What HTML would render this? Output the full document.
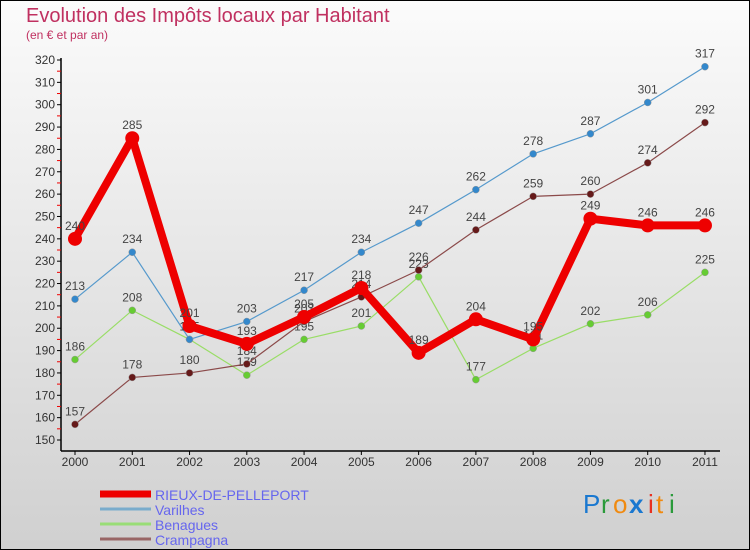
<!DOCTYPE html>
<html><head><meta charset="utf-8"><style>
html,body{margin:0;padding:0}
body{width:750px;height:550px;overflow:hidden;font-family:"Liberation Sans",sans-serif}
#wrap{position:relative;width:748px;height:548px;border:1px solid #000;background:linear-gradient(#fbfbfb,#d0d0d0)}
</style></head><body>
<div id="wrap">
<svg id="chart" width="748" height="548" viewBox="1 1 748 548" style="position:absolute;left:0;top:0">
<text x="26" y="22" font-size="20" fill="#c03060">Evolution des Impôts locaux par Habitant</text>
<text x="26" y="39" font-size="12" fill="#c03060">(en € et par an)</text>
<g id="axes"></g><g id="series"></g><g id="legend"></g>
<g font-size="26" font-family="Liberation Sans, sans-serif">
<text x="583" y="513" fill="#1a78d0">P</text><text x="601" y="513" fill="#2a9a3a">r</text><text x="613" y="513" fill="#f08a10">o</text><text x="629" y="513" fill="#1a78d0" font-weight="bold">x</text><text x="648" y="513" fill="#e83020">i</text><text x="656" y="513" fill="#f08a10">t</text><text x="669" y="513" fill="#2a9a3a">i</text>
</g>
</svg>
</div>
<script>
const years=["2000","2001","2002","2003","2004","2005","2006","2007","2008","2009","2010","2011"];
const rieux=[240,285,201,193,205,218,189,204,195,249,246,246];
const varilhes=[213,234,195,203,217,234,247,262,278,287,301,317];
const benagues=[186,208,195,179,195,201,223,177,191,202,206,225];
const crampagna=[157,178,180,184,203,214,226,244,259,260,274,292];
const yTicks=[150,160,170,180,190,200,210,220,230,240,250,260,270,280,290,300,310,320];
const seriesNames=["RIEUX-DE-PELLEPORT","Varilhes","Benagues","Crampagna"];
const NS="http://www.w3.org/2000/svg";
function X(i){return 75+i*57.27;}
function Y(v){return 440-(v-150)*380/170;}
function mk(t,a,p){const e=document.createElementNS(NS,t);for(const k in a)e.setAttribute(k,a[k]);p.appendChild(e);return e;}
const ax=document.getElementById('axes');
let l=mk('line',{x1:61,y1:58,x2:61,y2:451,stroke:'#000','stroke-width':1.5},ax);


l=mk('line',{x1:61,y1:451,x2:720,y2:451,stroke:'#000','stroke-width':1.5},ax);


yTicks.forEach((v,i)=>{const y=Y(v);
 mk('line',{x1:57,y1:y,x2:61,y2:y,stroke:'#000'},ax);
 if(i<yTicks.length-1)mk('line',{x1:57,y1:Y(v+5),x2:61,y2:Y(v+5),stroke:'#e00'},ax);
 const t=mk('text',{x:55,y:y+4,'font-size':12,fill:'#333','text-anchor':'end'},ax);t.textContent=v;
 
 });
years.forEach((yr,i)=>{const x=X(i);
 mk('line',{x1:x,y1:451,x2:x,y2:455,stroke:'#000'},ax);
 const t=mk('text',{x:x,y:466,'font-size':12,fill:'#333','text-anchor':'middle'},ax);t.textContent=yr;
 
 });
const sg=document.getElementById('series');
const defs=[[benagues,'#99dd66','#66cc33',1.2,3.5,'benagues'],[crampagna,'#8b4a4a','#661a1a',1.2,3.5,'crampagna'],[varilhes,'#5599cc','#3388cc',1.2,3.5,'varilhes'],[rieux,'#ee0000','#ee0000',8,7,'rieux']];
defs.forEach(([d,lc,pc,w,r,n])=>{
 const g=mk('g',{},sg);
 
 
 const pl=mk('polyline',{points:d.map((v,i)=>X(i)+','+Y(v)).join(' '),fill:'none',stroke:lc,'stroke-width':w,'stroke-linejoin':'round'},g);
 
 
 d.forEach((v,i)=>{const c=mk('circle',{cx:X(i),cy:Y(v),r:r,fill:pc,stroke:r<5?'#999':'none','stroke-width':0.5},g);
  
  
  const t=mk('text',{x:X(i),y:Y(v)-9,'font-size':12,fill:'#444','text-anchor':'middle'},g);t.textContent=v;
  
  });
});
const lg=document.getElementById('legend');
const lcol=['#ee0000','#7aaccc','#99dd77','#996666'];const lw=[7,3,3,3];
seriesNames.forEach((s,i)=>{const y=494+i*15;
 const g=mk('g',{},lg);
 
 
 mk('line',{x1:100,y1:y,x2:151,y2:y,stroke:lcol[i],'stroke-width':lw[i]},g);
 const t=mk('text',{x:155,y:y+6,'font-size':14,fill:'#6666ee'},g);t.textContent=s;});
</script>
</body></html>
